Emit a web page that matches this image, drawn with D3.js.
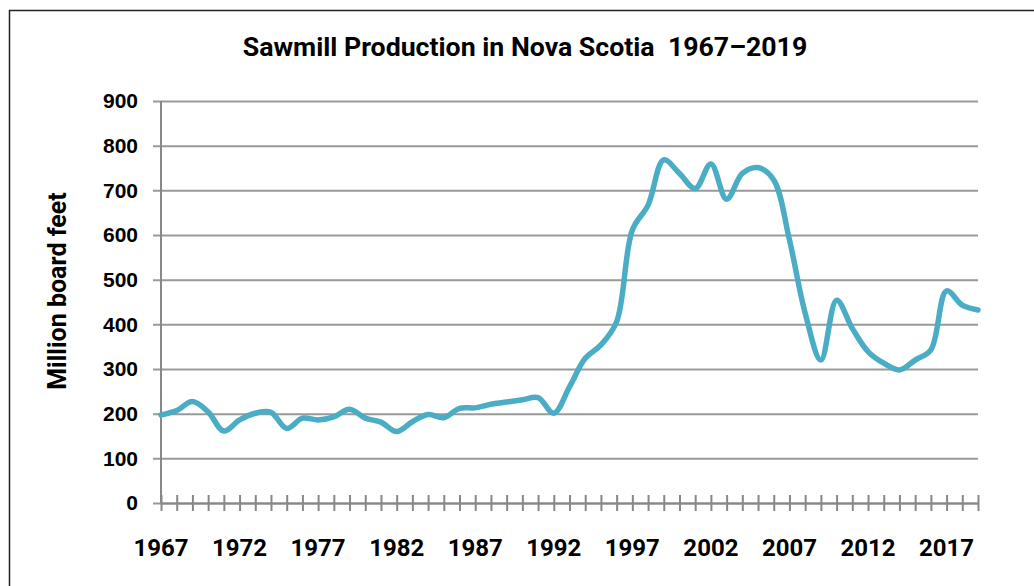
<!DOCTYPE html>
<html>
<head>
<meta charset="utf-8">
<script src="https://cdn.jsdelivr.net/npm/d3@7"></script>
<style>
  body { margin: 0; background: #fff; }
  svg { display: block; font-family: Roboto, "Liberation Sans", sans-serif; }
</style>
</head>
<body>
<svg id="chart"></svg>
<script>
// Sawmill production, million board feet
const years = d3.range(1967, 2020);
const production = [
  197, 207, 227, 204, 161, 186, 201, 203, 167, 190,
  186, 193, 210, 190, 181, 160, 182, 198, 191, 212,
  213, 221, 226, 231, 236, 201, 260, 324, 354, 406,
  611, 667, 768, 738, 704, 759, 680, 738, 751, 723,
  589, 425, 320, 454, 391, 339, 313, 298, 320, 343,
  475, 443, 432
];
const yTicks = [0, 100, 200, 300, 400, 500, 600, 700, 800, 900];
const xLabelYears = [1967, 1972, 1977, 1982, 1987, 1992, 1997, 2002, 2007, 2012, 2017];

const W = 1034, H = 586;
const margin = {top: 101, right: 56, bottom: 83, left: 161};
const width = W - margin.left - margin.right;
const height = H - margin.top - margin.bottom;

const data = years.map((y, i) => ({year: y, value: production[i]}));

const svg = d3.select('#chart').attr('width', W).attr('height', H);

// outer frame
svg.append('rect')
  .attr('x', 9.5).attr('y', 10.5)
  .attr('width', W + 20).attr('height', H + 20)
  .attr('fill', 'none')
  .attr('stroke', '#222')
  .attr('stroke-width', 1.5);

const xScale = d3.scaleLinear().domain([1967, 2019]).range([0, width]);
const yScale = d3.scaleLinear().domain([0, 900]).range([height, 0]);

const chart = svg.append('g')
  .attr('transform', `translate(${margin.left},${margin.top})`);

// horizontal gridlines + y ticks
const yAxisG = chart.append('g')
  .call(d3.axisLeft(yScale).tickValues(yTicks).tickSize(-width - 8).tickPadding(16).tickFormat(d3.format('d')));
yAxisG.select('.domain').remove();
yAxisG.selectAll('.tick line')
  .attr('x1', -8).attr('x2', width)
  .attr('stroke', '#999')
  .attr('stroke-width', 2);
yAxisG.selectAll('.tick text')
  .attr('x', -23)
  .style('font-size', '21px')
  .style('font-weight', 'bold')
  .attr('fill', '#000');

// y axis line
chart.append('line')
  .attr('x1', 0).attr('x2', 0)
  .attr('y1', 0).attr('y2', height)
  .attr('stroke', '#888').attr('stroke-width', 2);

// x axis with yearly ticks crossing the axis
const xAxisG = chart.append('g')
  .attr('transform', `translate(0,${height})`)
  .call(d3.axisBottom(xScale).tickValues(years).tickSize(0).tickFormat(''));
xAxisG.select('.domain').attr('stroke', '#888').attr('stroke-width', 2);
xAxisG.selectAll('.tick line')
  .attr('y1', -8).attr('y2', 8)
  .attr('stroke', '#888').attr('stroke-width', 2);

// year labels every five years
chart.append('g')
  .selectAll('text')
  .data(xLabelYears)
  .join('text')
  .attr('x', d => xScale(d))
  .attr('y', height + 53)
  .attr('text-anchor', 'middle')
  .style('font-size', '24px')
  .style('font-weight', 'bold')
  .text(d => d);

// the line
const line = d3.line()
  .x(d => xScale(d.year))
  .y(d => yScale(d.value))
  .curve(d3.curveCatmullRom.alpha(0.5));

chart.append('path')
  .datum(data)
  .attr('d', line)
  .attr('fill', 'none')
  .attr('stroke', '#4bacc6')
  .attr('stroke-width', 5.5)
  .attr('stroke-linejoin', 'round')
  .attr('stroke-linecap', 'round');

// title
svg.append('text')
  .attr('x', 525)
  .attr('y', 56)
  .attr('text-anchor', 'middle')
  .style('font-size', '26.7px')
  .style('font-weight', 'bold')
  .text('Sawmill Production in Nova Scotia\u00a0 1967\u20132019');

// y label
svg.append('text')
  .attr('transform', 'translate(66,291) rotate(-90)')
  .attr('text-anchor', 'middle')
  .style('font-size', '25px')
  .style('font-weight', 'bold')
  .text('Million board feet');
</script>
</body>
</html>
